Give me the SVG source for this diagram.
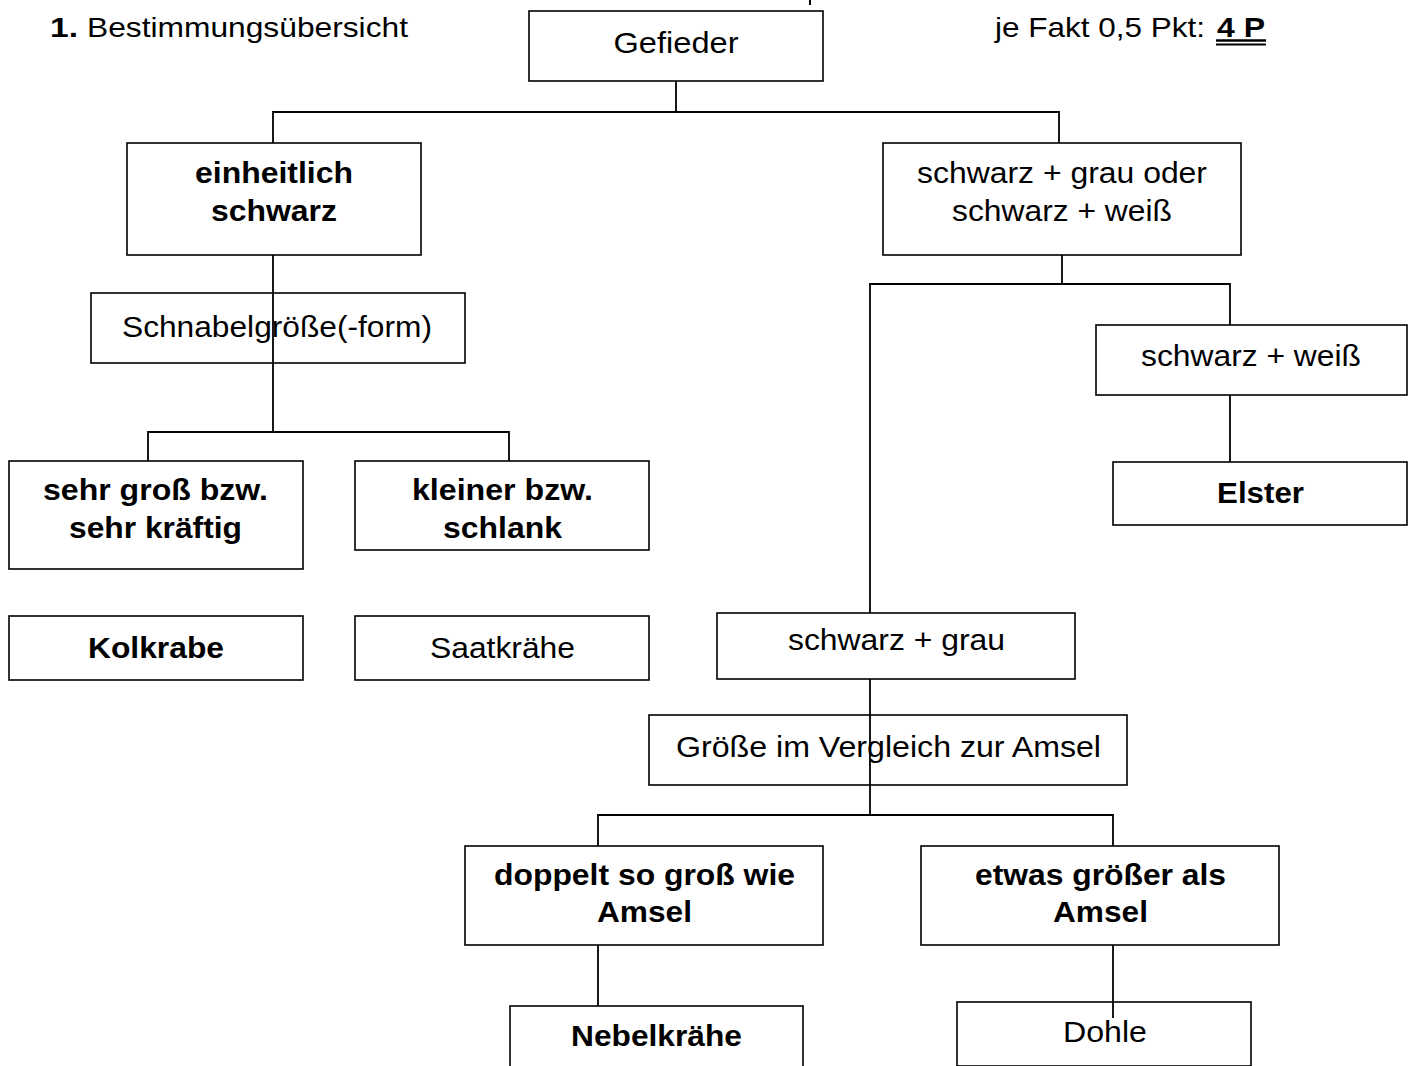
<svg xmlns="http://www.w3.org/2000/svg" width="1413" height="1066" viewBox="0 0 1413 1066">
<style>
rect.b{fill:#fff;stroke:#000;stroke-width:1.6}
.c line,.c path{stroke:#000;stroke-width:1.8;fill:none}
text{font-family:"Liberation Sans",Arial,sans-serif;font-size:30px;fill:#000}
.bd{font-weight:bold}
.m{text-anchor:middle}
</style>
<rect width="1413" height="1066" fill="#fff"/>
<g id="header">
<text x="50" y="37" style="font-size:28px"><tspan class="bd" textLength="28" lengthAdjust="spacingAndGlyphs">1.</tspan><tspan x="87" textLength="321" lengthAdjust="spacingAndGlyphs">Bestimmungsübersicht</tspan></text>
<text x="995" y="37" style="font-size:28px"><tspan textLength="210" lengthAdjust="spacingAndGlyphs">je Fakt 0,5 Pkt:</tspan><tspan x="1217" class="bd" textLength="48" lengthAdjust="spacingAndGlyphs">4 P</tspan></text>
<line x1="1216" y1="40.5" x2="1266" y2="40.5" stroke="#000" stroke-width="2.4"/>
<line x1="1216" y1="44.5" x2="1266" y2="44.5" stroke="#000" stroke-width="2"/>
<line x1="810" y1="0" x2="810" y2="5" stroke="#000" stroke-width="2"/>
</g>
<g class="c" id="connectors">
<path d="M676 81V112M273 143V112H1059V143"/>
<path d="M273 255V432M148 461V432H509V461"/>
<path d="M1062 255V284M870 613V284H1230V325"/>
<path d="M1230 395V462"/>
<path d="M870 679V815M598 846V815H1113V846"/>
<path d="M598 945V1006"/>
<path d="M1113 945V1018"/>
</g>
<g id="n-gefieder"><rect class="b" x="529" y="11" width="294" height="70"/><text class="m" x="676" y="53" textLength="125" lengthAdjust="spacingAndGlyphs">Gefieder</text></g>
<g id="n-einheitlich"><rect class="b" x="127" y="143" width="294" height="112"/><text class="m bd" x="274" y="183" textLength="158" lengthAdjust="spacingAndGlyphs">einheitlich</text><text class="m bd" x="274" y="221" textLength="126" lengthAdjust="spacingAndGlyphs">schwarz</text></g>
<g id="n-gemischt"><rect class="b" x="883" y="143" width="358" height="112"/><text class="m" x="1062" y="183" textLength="290" lengthAdjust="spacingAndGlyphs">schwarz + grau oder</text><text class="m" x="1062" y="221" textLength="220" lengthAdjust="spacingAndGlyphs">schwarz + weiß</text></g>
<g id="n-schnabel"><rect class="b" x="91" y="293" width="374" height="70" fill-opacity="0"/><text class="m" x="277" y="337" textLength="310" lengthAdjust="spacingAndGlyphs">Schnabelgröße(-form)</text></g>
<g id="n-gross"><rect class="b" x="9" y="461" width="294" height="108"/><text class="m bd" x="155.5" y="500" textLength="225" lengthAdjust="spacingAndGlyphs">sehr groß bzw.</text><text class="m bd" x="155.5" y="538" textLength="173" lengthAdjust="spacingAndGlyphs">sehr kräftig</text></g>
<g id="n-klein"><rect class="b" x="355" y="461" width="294" height="89"/><text class="m bd" x="502.5" y="500" textLength="181" lengthAdjust="spacingAndGlyphs">kleiner bzw.</text><text class="m bd" x="502.5" y="538" textLength="119" lengthAdjust="spacingAndGlyphs">schlank</text></g>
<g id="n-kolkrabe"><rect class="b" x="9" y="616" width="294" height="64"/><text class="m bd" x="156" y="658" textLength="136" lengthAdjust="spacingAndGlyphs">Kolkrabe</text></g>
<g id="n-saatkraehe"><rect class="b" x="355" y="616" width="294" height="64"/><text class="m" x="502.5" y="658" textLength="145" lengthAdjust="spacingAndGlyphs">Saatkrähe</text></g>
<g id="n-schwarzweiss"><rect class="b" x="1096" y="325" width="311" height="70"/><text class="m" x="1251" y="366" textLength="220" lengthAdjust="spacingAndGlyphs">schwarz + weiß</text></g>
<g id="n-elster"><rect class="b" x="1113" y="462" width="294" height="63"/><text class="m bd" x="1260.5" y="503" textLength="87" lengthAdjust="spacingAndGlyphs">Elster</text></g>
<g id="n-schwarzgrau"><rect class="b" x="717" y="613" width="358" height="66"/><text class="m" x="896.5" y="650" textLength="217" lengthAdjust="spacingAndGlyphs">schwarz + grau</text></g>
<g id="n-groesse"><rect class="b" x="649" y="715" width="478" height="70" fill-opacity="0"/><text class="m" x="888.5" y="757" textLength="425" lengthAdjust="spacingAndGlyphs">Größe im Vergleich zur Amsel</text></g>
<g id="n-doppelt"><rect class="b" x="465" y="846" width="358" height="99"/><text class="m bd" x="644.5" y="885" textLength="301" lengthAdjust="spacingAndGlyphs">doppelt so groß wie</text><text class="m bd" x="644.5" y="922" textLength="95" lengthAdjust="spacingAndGlyphs">Amsel</text></g>
<g id="n-etwas"><rect class="b" x="921" y="846" width="358" height="99"/><text class="m bd" x="1100.5" y="885" textLength="251" lengthAdjust="spacingAndGlyphs">etwas größer als</text><text class="m bd" x="1100.5" y="922" textLength="95" lengthAdjust="spacingAndGlyphs">Amsel</text></g>
<g id="n-nebelkraehe"><rect class="b" x="510" y="1006" width="293" height="80"/><text class="m bd" x="656.5" y="1046" textLength="171" lengthAdjust="spacingAndGlyphs">Nebelkrähe</text></g>
<g id="n-dohle"><rect class="b" x="957" y="1002" width="294" height="64" fill-opacity="0"/><text class="m" x="1105" y="1042" textLength="84" lengthAdjust="spacingAndGlyphs">Dohle</text></g>
</svg>
